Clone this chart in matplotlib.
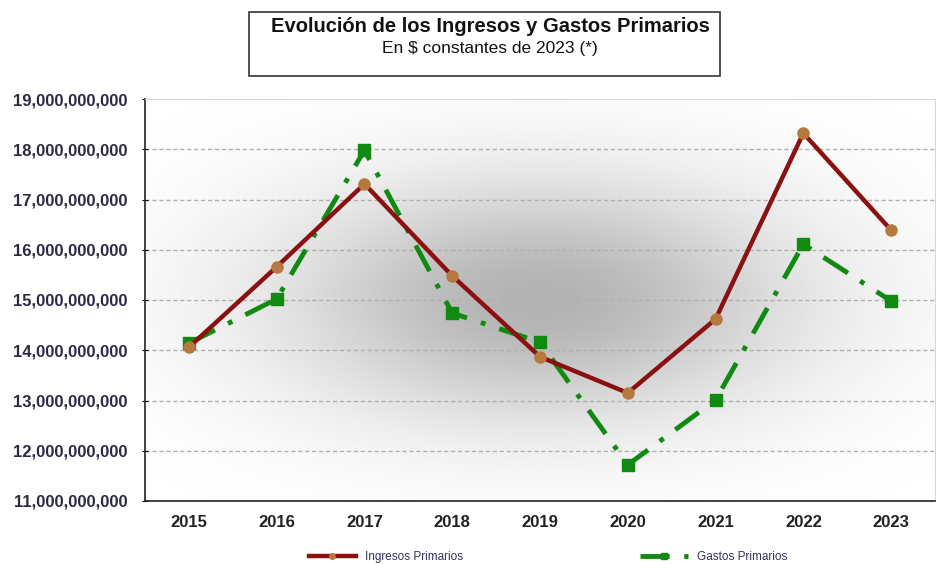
import numpy as np
import matplotlib
matplotlib.use("Agg")
import matplotlib.pyplot as plt
from matplotlib.ticker import FuncFormatter
from matplotlib.patches import Rectangle

years = ["2015", "2016", "2017", "2018", "2019", "2020", "2021", "2022", "2023"]
ingresos = [14.06e9, 15.66e9, 17.31e9, 15.48e9, 13.87e9, 13.15e9, 14.62e9, 18.32e9, 16.39e9]
gastos = [14.14e9, 15.02e9, 17.98e9, 14.74e9, 14.16e9, 11.72e9, 13.01e9, 16.11e9, 14.98e9]
yticks = [11e9, 12e9, 13e9, 14e9, 15e9, 16e9, 17e9, 18e9, 19e9]

plt.rcParams['font.family'] = ['Liberation Sans', 'DejaVu Sans']

fig = plt.figure(figsize=(9.36, 5.64), dpi=100)
ax = fig.add_axes([145/936, 1 - 501/564, 790/936, 402/564])

# background soft radial gradient
nx, ny = 400, 200
xx, yy = np.meshgrid(np.linspace(0, 1, nx), np.linspace(0, 1, ny))
g = np.exp(-(((xx - 0.50) / 0.33) ** 2 + ((yy - 0.50) / 0.30) ** 2))
val = 1.0 - 0.30 * g
ax.imshow(val, extent=[0, 1, 0, 1], transform=ax.transAxes, cmap='gray',
          vmin=0, vmax=1, aspect='auto', zorder=0, interpolation='bilinear')

x = np.arange(len(years))
ax.plot(x, ingresos, color='#8b1111', lw=3.2, marker='o', ms=8,
        mfc='#b5793f', mec='#b5793f', zorder=4, label='Ingresos Primarios')
ax.plot(x, gastos, color='#118a11', lw=3.5, ls=(0, (6, 3, 1, 3)), marker='s', ms=8,
        mfc='#118a11', mec='#118a11', zorder=3, label='Gastos Primarios')

ax.set_xlim(-0.5, len(years) - 0.5)
ax.set_ylim(11e9, 19e9)
ax.set_yticks(yticks)
ax.yaxis.set_major_formatter(FuncFormatter(lambda v, p: f"{v:,.0f}"))
ax.set_xticks(x)
ax.set_xticklabels(years)
for t in ax.get_yticklabels():
    t.set_fontsize(12)
    t.set_fontweight('bold')
    t.set_color('#2a2a45')
for t in ax.get_xticklabels():
    t.set_fontsize(12)
    t.set_fontweight('bold')
    t.set_color('#222222')
ax.tick_params(axis='y', length=5, direction='inout', pad=10)
ax.tick_params(axis='x', length=0, pad=10)

for yv in yticks[1:-1]:
    ax.axhline(yv, color='#b0b0b0', lw=1, ls=(0, (3, 2)), zorder=1)

for s in ['top', 'right']:
    ax.spines[s].set_color('#d8d8d8')
for s in ['left', 'bottom']:
    ax.spines[s].set_color('#222222')
    ax.spines[s].set_linewidth(1.2)

# title box
fig.patches.append(Rectangle((249/936, 1 - 76/564), 471/936, 64/564,
                             transform=fig.transFigure, fill=False,
                             edgecolor='#333333', lw=1.2))
fig.text(490/936, 1 - 27/564, "Evolución de los Ingresos y Gastos Primarios",
         ha='center', va='center', fontsize=14.5, fontweight='bold', color='#111111')
fig.text(490/936, 1 - 48/564, "En $ constantes de 2023 (*)",
         ha='center', va='center', fontsize=12.5, color='#111111')

leg = fig.legend(loc='center', bbox_to_anchor=(548/936, 1 - 557/564), ncol=2,
                 frameon=False, fontsize=8.5, columnspacing=15, handlelength=4,
                 markerscale=0.5, labelcolor='#33335a')

fig.savefig('out.png', dpi=100)
